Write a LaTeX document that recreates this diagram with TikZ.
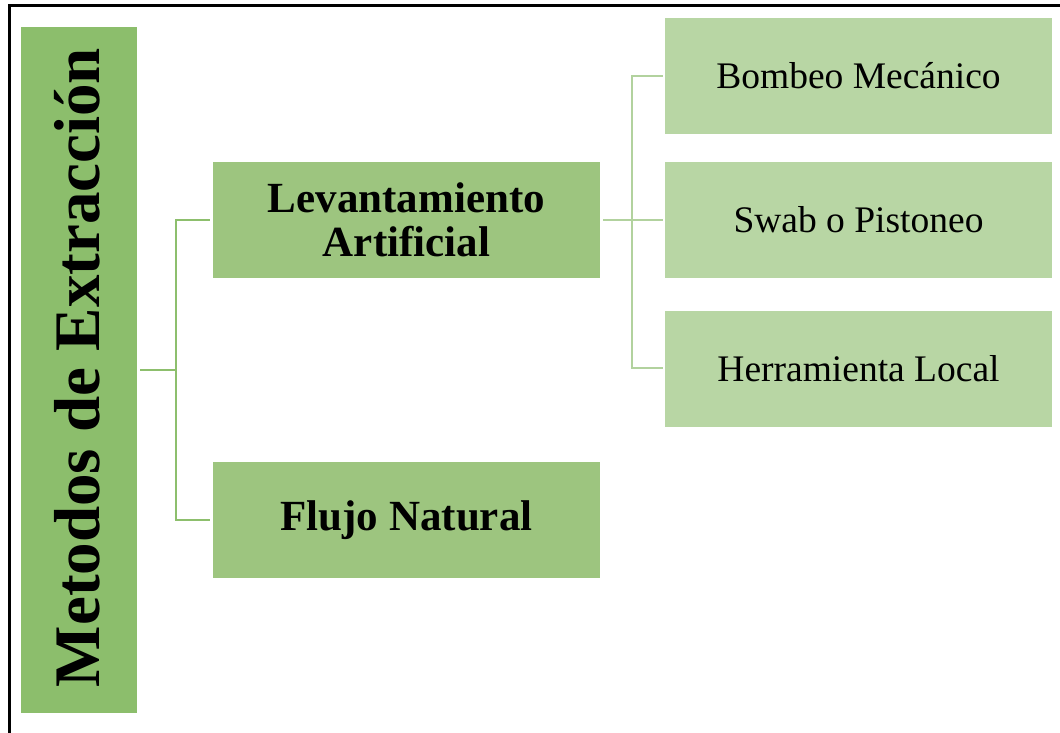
\documentclass[tikz,border=0pt]{standalone}
\usepackage{fontspec}
\setmainfont{Liberation Serif}
\begin{document}
\begin{tikzpicture}[x=1pt,y=1pt,
  box/.style={rectangle, inner sep=0pt, minimum width=387pt, minimum height=116pt, align=center},
  lvl2/.style={box, fill=lvtwo, font=\fontsize{43}{44}\selectfont\bfseries},
  lvl3/.style={box, fill=lvthree, font=\fontsize{37.5}{40}\selectfont},
  conA/.style={draw=lineA, line width=2.5pt},
  conB/.style={draw=lineB, line width=2.5pt}]
\definecolor{lvone}{HTML}{8CBE6C}
\definecolor{lvtwo}{HTML}{9DC57F}
\definecolor{lvthree}{HTML}{B8D6A4}
\definecolor{lineA}{HTML}{8DBF6D}
\definecolor{lineB}{HTML}{B2D29E}
\useasboundingbox (0,0) rectangle (1060,733);
% frame
\draw[line width=3pt] (9.5,0) -- (9.5,727) -- (1060,727);
% nodes
\node[rectangle, fill=lvone, inner sep=0pt, minimum width=116pt, minimum height=686pt] (title) at (79,363) {};
\node[rotate=90, anchor=base, inner sep=0pt, font=\fontsize{65}{67}\selectfont\bfseries] (titletext) at (99,365.5) {Metodos de Extracción};
\node[lvl2] (lev) at (406.5,513) {Levantamiento\\Artificial};
\node[lvl2] (flujo) at (406.5,213) {Flujo Natural};
\node[lvl3] (bombeo) at (858.5,657) {Bombeo Mecánico};
\node[lvl3] (swab) at (858.5,513) {Swab o Pistoneo};
\node[lvl3] (herr) at (858.5,364) {Herramienta Local};
% connectors level 1
\coordinate (j1) at (176,363);
\draw[conA] ([xshift=3pt]title.east) -- (j1);
\draw[conA] ([xshift=-3pt]lev.west) -| (j1) |- ([xshift=-3pt]flujo.west);
% connectors level 2
\coordinate (j2) at (632,513);
\draw[conB] ([xshift=3pt]lev.east) -- ([xshift=-2pt]swab.west);
\draw[conB] ([xshift=-2pt]bombeo.west) -| (j2) |- ([xshift=-2pt,yshift=1pt]herr.west);
\end{tikzpicture}
\end{document}
